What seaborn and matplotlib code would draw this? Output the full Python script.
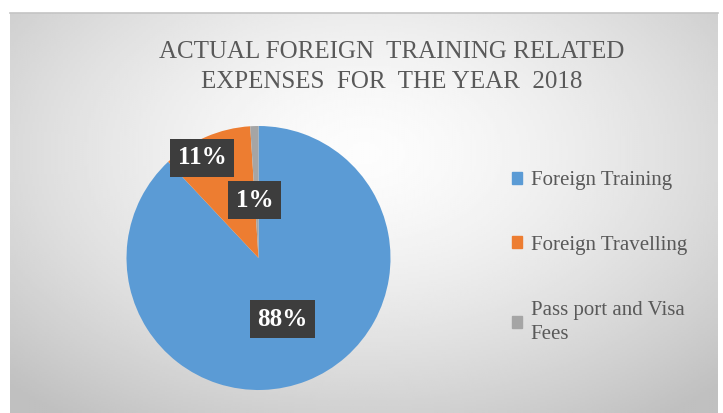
import numpy as np
import seaborn as sns
import matplotlib.pyplot as plt

sns.set_theme(style="white")
plt.rcParams['font.family'] = ['Liberation Serif', 'DejaVu Serif']

categories = ['Foreign Training', 'Foreign Travelling', 'Pass port and Visa\nFees']
shares = [88, 11, 1]
label_texts = ['88%', '11%', '1%']
label_radius = [0.50, 0.87, 0.44]
label_shift = [0, 6, 2]   # degrees, nudges like Excel's placement
colors = ['#5B9BD5', '#ED7D31', '#A5A5A5']

W, H = 723, 413
fig = plt.figure(figsize=(W / 100, H / 100), dpi=100)
fig.patch.set_facecolor('white')

# gradient background of the chart area
bg = fig.add_axes([10 / W, 0, 708 / W, 400 / H], zorder=0)
yy, xx = np.mgrid[-1:1:200j, -1:1:300j]
rr = np.sqrt((xx * 0.9) ** 2 + ((yy + 0.3) * 0.8) ** 2)
img = 0.99 - 0.16 * np.clip(rr, 0, 1.3) ** 1.5
bg.imshow(img, cmap='gray', vmin=0, vmax=1, aspect='auto', extent=[0, 1, 0, 1])
bg.set_xticks([])
bg.set_yticks([])
for s in ['left', 'right', 'bottom']:
    bg.spines[s].set_visible(False)
bg.spines['top'].set_color('#c4c4c4')
bg.spines['top'].set_linewidth(1.2)

fig.text(392 / W, 1 - 67 / H, 'ACTUAL FOREIGN  TRAINING RELATED\nEXPENSES  FOR  THE YEAR  2018',
         ha='center', va='center', fontsize=18, color='#595959', linespacing=1.5)

R = 132
ax = fig.add_axes([(258.5 - R) / W, (H - 258 - R) / H, 2 * R / W, 2 * R / H], zorder=1)
wedges, _ = ax.pie(shares, colors=colors, startangle=90, counterclock=False,
                   wedgeprops=dict(linewidth=0))
ax.set_xlim(-1, 1)
ax.set_ylim(-1, 1)
ax.set_aspect('equal')
ax.axis('off')

for w, txt, r, sh in zip(wedges, label_texts, label_radius, label_shift):
    ang = np.deg2rad((w.theta1 + w.theta2) / 2 + sh)
    ax.text(r * np.cos(ang), r * np.sin(ang), txt, ha='center', va='center',
            fontsize=18, fontweight='bold', color='white',
            bbox=dict(boxstyle='square,pad=0.3', facecolor='#3d3d3d', edgecolor='none'))

handles = [plt.Rectangle((0, 0), 1, 1, color=c) for c in colors]
leg = fig.legend(handles, categories, loc='upper left', bbox_to_anchor=(512 / W, 1 - 171 / H),
                 frameon=False, fontsize=15, labelcolor='#595959', handlelength=0.5,
                 handleheight=0.5, handletextpad=0.4, labelspacing=2.2, borderpad=0,
                 borderaxespad=0)
for t in leg.get_texts():
    t.set_linespacing(1.35)

fig.savefig('out.png', dpi=100)
